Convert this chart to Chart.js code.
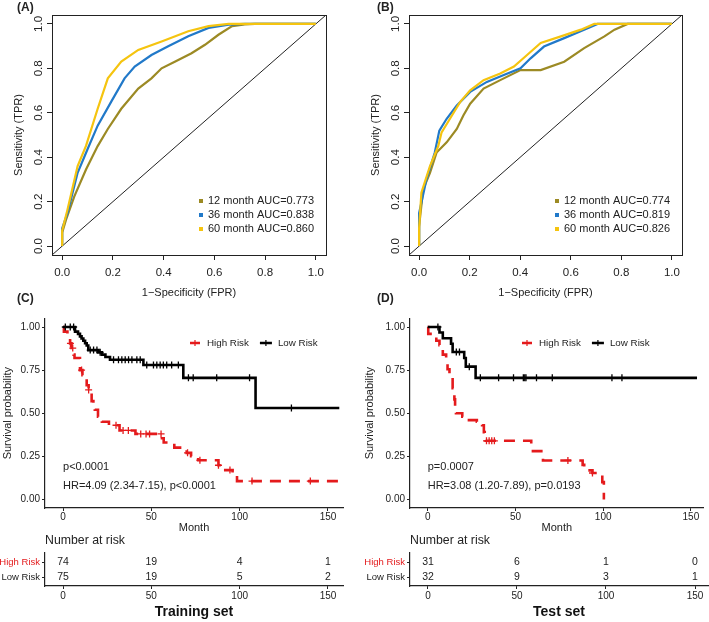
<!DOCTYPE html>
<html>
<head>
<meta charset="utf-8">
<script src="https://cdn.jsdelivr.net/npm/chart.js@4.4.1/dist/chart.umd.min.js"></script>
<style>
  body { margin: 0; background: #fff; }
  #fig { position: relative; width: 709px; height: 622px; overflow: hidden; font-family: 'Liberation Sans', Arial, sans-serif; }
  .panel { position: absolute; }
  .tag { position: absolute; font-weight: bold; font-size: 12px; line-height: 14px; color: #222; z-index: 2; }
</style>
</head>
<body>
<div id="fig">
  <div class="panel" style="left:0px;top:0px"><canvas id="rocA" width="355" height="300"></canvas></div>
  <div class="panel" style="left:355px;top:0px"><canvas id="rocB" width="354" height="300"></canvas></div>
  <div class="panel" style="left:0px;top:305px"><canvas id="kmC" width="355" height="230"></canvas></div>
  <div class="panel" style="left:355px;top:305px"><canvas id="kmD" width="354" height="230"></canvas></div>
  <div class="panel" style="left:0px;top:530px"><canvas id="tabC" width="355" height="92"></canvas></div>
  <div class="panel" style="left:355px;top:530px"><canvas id="tabD" width="354" height="92"></canvas></div>
  <div class="tag" style="left:17px;top:0px">(A)</div>
  <div class="tag" style="left:377px;top:0px">(B)</div>
  <div class="tag" style="left:17px;top:291px">(C)</div>
  <div class="tag" style="left:377px;top:291px">(D)</div>
</div>
<script>
// ---- ROC data ----
const rocTicks = [0, 0.2, 0.4, 0.6, 0.8, 1.0];
const rocLimits = [-0.04, 1.04];
const rocLabels = ['12 month', '36 month', '60 month'];
const rocColors = ['#9c8a24', '#2179c9', '#f5c40f'];
const aucA = [0.773, 0.838, 0.860];
const aucB = [0.774, 0.819, 0.826];

const fprA12 = [0, 0, 0.015, 0.048, 0.094, 0.14, 0.18, 0.233, 0.3, 0.352, 0.392, 0.444, 0.51, 0.563, 0.616, 0.67, 0.72, 0.76, 1];
const tprA12 = [0, 0.06, 0.118, 0.224, 0.345, 0.45, 0.527, 0.618, 0.709, 0.755, 0.8, 0.83, 0.868, 0.906, 0.951, 0.99, 0.998, 1, 1];
const fprA36 = [0, 0, 0.021, 0.061, 0.1, 0.14, 0.193, 0.246, 0.286, 0.352, 0.418, 0.497, 0.577, 0.656, 0.72, 1];
const tprA36 = [0, 0.08, 0.148, 0.33, 0.436, 0.542, 0.649, 0.755, 0.808, 0.86, 0.899, 0.944, 0.982, 0.997, 1, 1];
const fprA60 = [0, 0, 0.021, 0.061, 0.094, 0.14, 0.18, 0.233, 0.3, 0.392, 0.497, 0.577, 0.656, 1];
const tprA60 = [0, 0.07, 0.164, 0.36, 0.451, 0.618, 0.755, 0.83, 0.883, 0.921, 0.967, 0.99, 1, 1];

const fprB12 = [0, 0, 0.016, 0.043, 0.069, 0.109, 0.149, 0.175, 0.202, 0.255, 0.321, 0.401, 0.481, 0.574, 0.653, 0.733, 0.773, 0.825, 1];
const tprB12 = [0, 0.09, 0.255, 0.33, 0.421, 0.467, 0.527, 0.588, 0.641, 0.709, 0.747, 0.792, 0.792, 0.83, 0.891, 0.944, 0.974, 1, 1];
const fprB36 = [0, 0, 0.029, 0.062, 0.08, 0.109, 0.149, 0.202, 0.268, 0.335, 0.401, 0.441, 0.494, 0.574, 0.653, 0.706, 1];
const tprB36 = [0, 0.148, 0.3, 0.421, 0.52, 0.573, 0.633, 0.694, 0.739, 0.77, 0.8, 0.845, 0.898, 0.936, 0.974, 1, 1];
const fprB60 = [0, 0, 0.009, 0.043, 0.076, 0.089, 0.122, 0.162, 0.202, 0.255, 0.321, 0.375, 0.427, 0.481, 0.561, 0.64, 0.693, 1];
const tprB60 = [0, 0.08, 0.24, 0.36, 0.451, 0.512, 0.573, 0.648, 0.701, 0.747, 0.777, 0.808, 0.86, 0.914, 0.944, 0.974, 1, 1];

// ---- Kaplan-Meier data ----
const kmXTicks = [0, 50, 100, 150];
const kmYTicks = [0, 0.25, 0.5, 0.75, 1];
const groups = ['High Risk', 'Low Risk'];
const groupColors = ['#e41a1c', '#000000'];

const timeCHigh = [0, 0.5, 2.5, 4, 4.8, 6, 6.5, 9.6, 11, 13.4, 14.5, 15.3, 16.2, 17.2, 18, 19.8, 21, 22, 26, 32, 41, 56, 57, 63, 70, 72.5, 76.5, 88, 90.5, 96, 98.5, 156];
const survCHigh = [1, 0.973, 0.946, 0.905, 0.878, 0.84, 0.82, 0.75, 0.72, 0.662, 0.635, 0.62, 0.57, 0.545, 0.52, 0.48, 0.465, 0.45, 0.43, 0.40, 0.38, 0.355, 0.33, 0.30, 0.27, 0.25, 0.227, 0.198, 0.17, 0.14, 0.106, 0.106];
const censorCHigh = [4.2, 5.5, 10.5, 14.5, 30, 34, 37, 44, 47, 49, 55.5, 70.5, 77.5, 88, 94.5, 107, 140];
const timeCLow = [0, 6.8, 8.5, 9.6, 10.5, 11.5, 12.5, 13.4, 14.3, 20, 22, 24, 26.6, 45.5, 68.1, 109, 156.4];
const survCLow = [1, 0.973, 0.96, 0.946, 0.933, 0.92, 0.906, 0.893, 0.866, 0.853, 0.84, 0.826, 0.81, 0.78, 0.705, 0.53, 0.53];
const censorCLow = [1.3, 4.1, 6, 15.4, 17.3, 19.2, 21, 28.6, 31.4, 33.3, 35.2, 37.1, 39, 41.8, 43.7, 47.4, 51.2, 53.1, 55, 56.8, 58.7, 61.5, 65.3, 71, 73.7, 87, 105.6, 129.3];

const timeDHigh = [0, 0.3, 4.9, 6.7, 8.6, 10.5, 11.3, 12.4, 14.2, 15.2, 15.6, 16.1, 19.7, 21.7, 28, 31, 32, 32.5, 33, 59, 65.7, 88.3, 89.2, 93.9, 99.5, 100.4];
const survDHigh = [1, 0.96, 0.92, 0.895, 0.84, 0.80, 0.755, 0.71, 0.645, 0.58, 0.53, 0.5, 0.48, 0.46, 0.45, 0.43, 0.39, 0.355, 0.34, 0.28, 0.226, 0.2, 0.168, 0.153, 0.1, 0];
const censorDHigh = [33.5, 35, 36.5, 38, 79.9, 93.9];
const timeDLow = [0, 6.7, 8.6, 13.3, 14.2, 20.8, 21.7, 27.3, 153.5];
const survDLow = [1, 0.968, 0.935, 0.903, 0.855, 0.82, 0.77, 0.705, 0.705];
const censorDLow = [5.8, 16.3, 18.1, 23.7, 30, 40.4, 48.9, 54.5, 55.3, 56, 62, 71, 105, 110.7];

// ---- Number at risk ----
const riskTimes = [0, 50, 100, 150];
const riskCHigh = [74, 19, 4, 1];
const riskCLow = [75, 19, 5, 2];
const riskDHigh = [31, 6, 1, 0];
const riskDLow = [32, 9, 3, 1];

const FONT = "'Liberation Sans', Arial, sans-serif";
Chart.defaults.font.family = FONT;
Chart.defaults.color = '#222';

function pts(xs, ys) { return xs.map((x, i) => ({ x: x, y: ys[i] })); }

// survival level at time t from the step data
function stepValue(times, surv, t) {
  let v = surv[0];
  for (let i = 0; i < times.length; i++) if (times[i] <= t) v = surv[i];
  return v;
}

// ---------- plugins ----------
const boxPlugin = {
  id: 'box',
  afterDraw(chart) {
    const a = chart.chartArea, ctx = chart.ctx;
    ctx.save();
    ctx.strokeStyle = '#222'; ctx.lineWidth = 1;
    ctx.strokeRect(Math.round(a.left) + 0.5, Math.round(a.top) + 0.5, Math.round(a.right - a.left), Math.round(a.bottom - a.top));
    ctx.restore();
  }
};

const rotatedYLabels = {
  id: 'rotatedYLabels',
  afterDraw(chart) {
    const y = chart.scales.y, ctx = chart.ctx;
    ctx.save();
    ctx.font = '11.5px ' + FONT;
    ctx.fillStyle = '#222'; ctx.textAlign = 'center'; ctx.textBaseline = 'middle';
    y.ticks.forEach(t => {
      ctx.save();
      ctx.translate(chart.chartArea.left - 13, y.getPixelForValue(t.value));
      ctx.rotate(-Math.PI / 2);
      ctx.fillText(t.value.toFixed(1), 0, 0);
      ctx.restore();
    });
    ctx.restore();
  }
};

const aucLegend = {
  id: 'aucLegend',
  afterDraw(chart) {
    const a = chart.chartArea, ctx = chart.ctx;
    const items = chart.data.datasets.filter(d => d.auc !== undefined);
    ctx.save();
    ctx.font = '11px ' + FONT;
    ctx.textAlign = 'left'; ctx.textBaseline = 'middle';
    items.forEach((d, i) => {
      const yy = a.bottom - 26 - (items.length - 1 - i) * 14;
      const xx = a.right - 118;
      ctx.fillStyle = d.borderColor;
      ctx.fillRect(xx - 9, yy - 2, 4, 4);
      ctx.fillStyle = '#222';
      ctx.fillText(d.label + ' AUC=' + d.auc.toFixed(3), xx, yy);
    });
    ctx.restore();
  }
};

const kmDecor = {
  id: 'kmDecor',
  afterDraw(chart, args, opts) {
    const a = chart.chartArea, ctx = chart.ctx;
    const xs = chart.scales.x, ys = chart.scales.y;
    ctx.save();
    // annotations
    ctx.font = '11px ' + FONT;
    ctx.fillStyle = '#222'; ctx.textAlign = 'left'; ctx.textBaseline = 'middle';
    opts.notes.forEach(n => ctx.fillText(n.text, xs.getPixelForValue(0), ys.getPixelForValue(n.y)));
    // legend
    ctx.font = '9.8px ' + FONT;
    let x = a.left + opts.legendLeft;
    const y = a.top + 24.6;
    groups.forEach((g, i) => {
      ctx.strokeStyle = groupColors[i];
      ctx.lineWidth = 2.5;
      ctx.beginPath();
      ctx.moveTo(x + (i === 0 ? 2 : 1), y); ctx.lineTo(x + (i === 0 ? 12 : 13), y);
      ctx.stroke();
      ctx.lineWidth = 1.2;
      ctx.beginPath();
      ctx.moveTo(x + 7, y - 3); ctx.lineTo(x + 7, y + 3);
      ctx.stroke();
      ctx.fillStyle = '#222';
      ctx.fillText(g, x + 19, y);
      x += 19 + ctx.measureText(g).width + 10;
    });
    ctx.restore();
  }
};

const riskText = {
  id: 'riskText',
  afterDraw(chart, args, opts) {
    const ctx = chart.ctx, a = chart.chartArea;
    ctx.save();
    ctx.fillStyle = '#222';
    ctx.font = '10.5px ' + FONT;
    ctx.textAlign = 'center'; ctx.textBaseline = 'middle';
    chart.data.datasets.forEach((d, di) => {
      chart.getDatasetMeta(di).data.forEach((p, i) => ctx.fillText(String(d.n[i]), p.x, p.y));
    });
    ctx.font = '12.3px ' + FONT;
    ctx.textAlign = 'left';
    ctx.fillText('Number at risk', a.left, 11);
    ctx.restore();
  }
};

// ---------- chart builders ----------
function rocChart(id, curves, auc, padRight, yWidth) {
  const datasets = curves.map((c, i) => ({
    label: rocLabels[i], auc: auc[i], data: pts(c[0], c[1]),
    borderColor: rocColors[i], borderWidth: 2.2, pointRadius: 0, tension: 0, order: 3 - i
  }));
  datasets.push({ data: pts(rocLimits, rocLimits), borderColor: '#222', borderWidth: 1, pointRadius: 0, order: 4 });
  new Chart(document.getElementById(id), {
    type: 'line',
    data: { datasets: datasets },
    options: {
      responsive: false, animation: false, events: [],
      layout: { padding: { top: 15, right: padRight, left: 0, bottom: 0 } },
      plugins: { legend: { display: false }, tooltip: { enabled: false } },
      scales: {
        x: {
          type: 'linear', min: rocLimits[0], max: rocLimits[1],
          afterBuildTicks: s => { s.ticks = rocTicks.map(v => ({ value: v })); },
          afterFit: s => { s.height = 45; },
          grid: { drawOnChartArea: false, tickLength: 5, color: '#222' },
          border: { color: '#222' },
          ticks: { autoSkip: false, maxRotation: 0, padding: 6, font: { size: 11.5 }, callback: v => v.toFixed(1) },
          title: { display: true, text: '1−Specificity (FPR)', font: { size: 11 }, padding: { top: 0, bottom: 0 } }
        },
        y: {
          type: 'linear', min: rocLimits[0], max: rocLimits[1],
          afterBuildTicks: s => { s.ticks = rocTicks.map(v => ({ value: v })); },
          afterFit: s => { s.width = yWidth; },
          grid: { drawOnChartArea: false, tickLength: 5, color: '#222' },
          border: { color: '#222' },
          ticks: { display: false },
          title: { display: true, text: 'Sensitivity (TPR)', font: { size: 11 }, padding: { top: yWidth - 40, bottom: 0 } }
        }
      }
    },
    plugins: [boxPlugin, rotatedYLabels, aucLegend]
  });
}

function kmChart(id, high, low, xLim, padRight, yWidth, titlePad, legendLeft, notes) {
  const mk = (g, i, order) => ({
    data: pts(g.t, g.s), stepped: true, borderColor: groupColors[i], borderWidth: 2.6,
    borderDash: i === 0 ? [11, 8] : [], pointRadius: 0, order: order
  });
  const cz = (g, i, order) => ({
    data: g.c.map(t => ({ x: t, y: stepValue(g.t, g.s, t) })), showLine: false,
    pointStyle: 'cross', pointRadius: 3.5, pointBorderColor: groupColors[i], pointBorderWidth: 1.3, order: order
  });
  new Chart(document.getElementById(id), {
    type: 'line',
    data: { datasets: [mk(high, 0, 4), mk(low, 1, 2), cz(high, 0, 3), cz(low, 1, 1)] },
    options: {
      responsive: false, animation: false, events: [],
      layout: { padding: { top: 13.4, right: padRight, left: 0, bottom: 0 } },
      plugins: { legend: { display: false }, tooltip: { enabled: false },
        kmDecor: { legendLeft: legendLeft, notes: notes } },
      scales: {
        x: {
          type: 'linear', min: xLim[0], max: xLim[1],
          afterBuildTicks: s => { s.ticks = kmXTicks.map(v => ({ value: v })); },
          afterFit: s => { s.height = 27; },
          grid: { drawOnChartArea: false, tickLength: 3, color: '#222' },
          border: { color: '#222', width: 1.2 },
          ticks: { autoSkip: false, maxRotation: 0, padding: 0, font: { size: 10 } },
          title: { display: true, text: 'Month', font: { size: 11 }, padding: { top: 0, bottom: 0 } }
        },
        y: {
          type: 'linear', min: -0.05, max: 1.05,
          afterBuildTicks: s => { s.ticks = kmYTicks.map(v => ({ value: v })); },
          afterFit: s => { s.width = yWidth; },
          grid: { drawOnChartArea: false, tickLength: 3, color: '#222' },
          border: { color: '#222', width: 1.2 },
          ticks: { padding: 2, font: { size: 10 }, callback: v => v.toFixed(2) },
          title: { display: true, text: 'Survival probability', font: { size: 11 }, padding: { top: titlePad, bottom: 0 } }
        }
      }
    },
    plugins: [kmDecor]
  });
}

function riskChart(id, high, low, xLim, padRight, yWidth, title) {
  new Chart(document.getElementById(id), {
    type: 'scatter',
    data: { datasets: [
      { n: high, data: riskTimes.map(t => ({ x: t, y: 2 })), pointRadius: 0 },
      { n: low, data: riskTimes.map(t => ({ x: t, y: 1 })), pointRadius: 0 }
    ] },
    options: {
      responsive: false, animation: false, events: [],
      layout: { padding: { top: 23, right: padRight, left: 0, bottom: 0 } },
      plugins: { legend: { display: false }, tooltip: { enabled: false } },
      scales: {
        x: {
          type: 'linear', min: xLim[0], max: xLim[1],
          afterBuildTicks: s => { s.ticks = riskTimes.map(v => ({ value: v })); },
          afterFit: s => { s.height = 36; },
          grid: { drawOnChartArea: false, tickLength: 3, color: '#222' },
          border: { color: '#222', width: 1.2 },
          ticks: { autoSkip: false, maxRotation: 0, padding: 1, font: { size: 10 } },
          title: { display: true, text: title, font: { size: 14, weight: 'bold' }, color: '#111', padding: { top: 0, bottom: 1.6 } }
        },
        y: {
          type: 'linear', min: 0.4, max: 2.6,
          afterBuildTicks: s => { s.ticks = [{ value: 1 }, { value: 2 }]; },
          afterFit: s => { s.width = yWidth; },
          grid: { drawOnChartArea: false, tickLength: 3, color: '#222' },
          border: { color: '#222', width: 1.2 },
          ticks: { padding: 2, font: { size: 9.5 },
            callback: v => (v === 2 ? groups[0] : groups[1]),
            color: c => (c.tick && c.tick.value === 2 ? groupColors[0] : '#222') }
        }
      }
    },
    plugins: [riskText]
  });
}

rocChart('rocA', [[fprA12, tprA12], [fprA36, tprA36], [fprA60, tprA60]], aucA, 29, 52);
rocChart('rocB', [[fprB12, tprB12], [fprB36, tprB36], [fprB60, tprB60]], aucB, 27, 54);

kmChart('kmC', { t: timeCHigh, s: survCHigh, c: censorCHigh }, { t: timeCLow, s: survCLow, c: censorCLow },
  [-10.2, 158.5], 12, 45, 1.4, 143,
  [{ text: 'p<0.0001', y: 0.186 }, { text: 'HR=4.09 (2.34-7.15), p<0.0001', y: 0.076 }]);
kmChart('kmD', { t: timeDHigh, s: survDHigh, c: censorDHigh }, { t: timeDLow, s: survDLow, c: censorDLow },
  [-10.1, 157.3], 1, 55, 8.4, 110,
  [{ text: 'p=0.0007', y: 0.186 }, { text: 'HR=3.08 (1.20-7.89), p=0.0193', y: 0.076 }]);

riskChart('tabC', riskCHigh, riskCLow, [-10.2, 158.5], 12, 45, 'Training set');
riskChart('tabD', riskDHigh, riskDLow, [-10.1, 157.3], 1, 55, 'Test set');
</script>
</body>
</html>
